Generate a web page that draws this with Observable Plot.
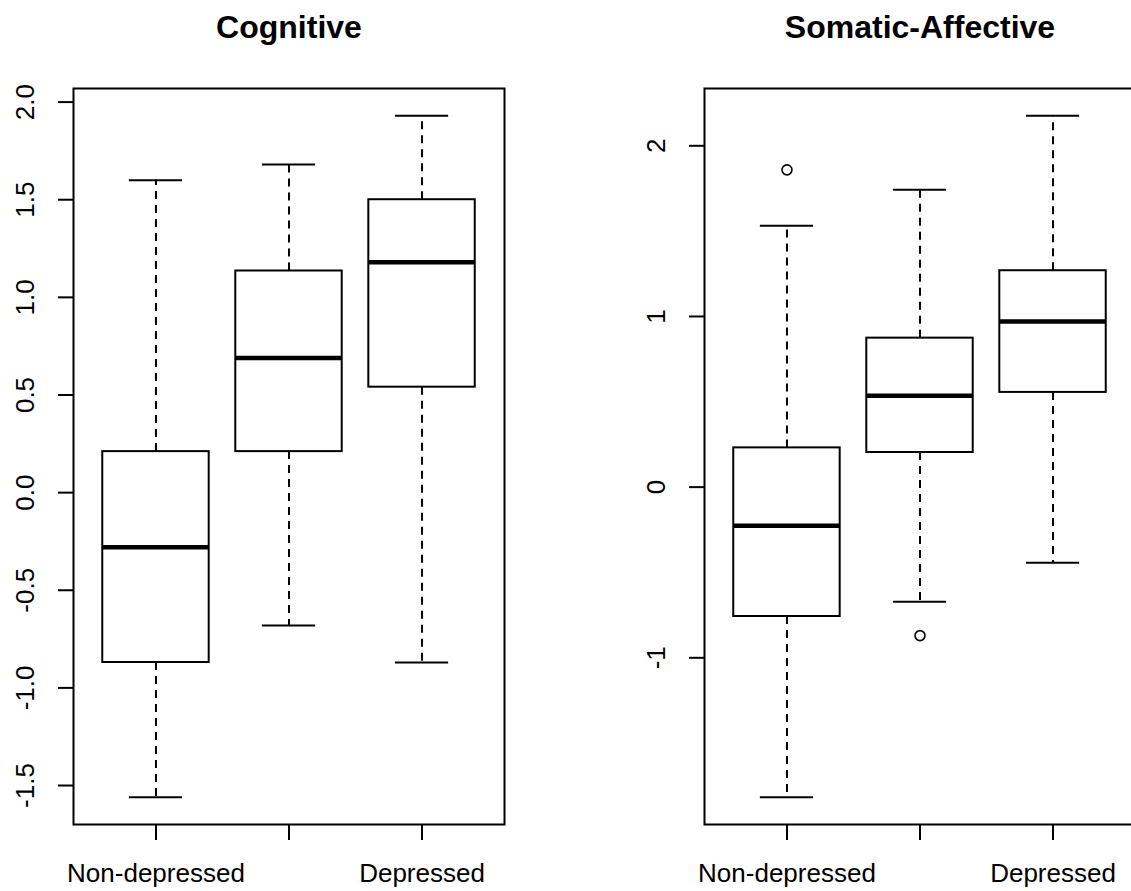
<!DOCTYPE html>
<html>
<head>
<meta charset="utf-8">
<script src="https://cdn.jsdelivr.net/npm/d3@7"></script>
<script src="https://cdn.jsdelivr.net/npm/@observablehq/plot@0.6"></script>
<style>
  html, body { margin: 0; padding: 0; background: #ffffff; overflow: hidden; }
  #wrap { position: relative; width: 1131px; height: 891px; background: #ffffff; overflow: hidden; }
  .panel { position: absolute; top: 0; }
  .panel svg { display: block; overflow: visible; max-width: none !important; height: 891px !important; }
</style>
</head>
<body>
<div id="wrap"></div>
<script>
// ---- data ----
const groupPos = [1, 2, 3];
const xTickLabels = ["Non-depressed", "", "Depressed"];

const cognitiveLow    = [-1.56, -0.68, -0.87];
const cognitiveQ1     = [-0.87,  0.21,  0.54];
const cognitiveMedian = [-0.28,  0.69,  1.18];
const cognitiveQ3     = [ 0.21,  1.135, 1.50];
const cognitiveHigh   = [ 1.60,  1.68,  1.93];
const cognitiveOutlierGroup = [];
const cognitiveOutlierValue = [];
const cognitiveTicks = [-1.5, -1.0, -0.5, 0.0, 0.5, 1.0, 1.5, 2.0];

const somaticLow    = [-1.817, -0.672, -0.443];
const somaticQ1     = [-0.758,  0.203,  0.555];
const somaticMedian = [-0.226,  0.536,  0.970];
const somaticQ3     = [ 0.230,  0.873,  1.268];
const somaticHigh   = [ 1.532,  1.742,  2.176];
const somaticOutlierGroup = [1, 2];
const somaticOutlierValue = [1.859, -0.870];
const somaticTicks = [-1, 0, 1, 2];

const FONT = "'Liberation Sans', Arial, Helvetica, sans-serif";
const BOX_HALF = 0.4;    // half box width (x units)
const CAP_HALF = 0.2;    // half staple width (x units)

function makePanel({title, low, q1, med, q3, high, outGroup, outValue, ticks, tickFmt, left, width, marginLeft, marginRight}) {
  const rows = groupPos.map((p, i) => ({pos: p, lo: low[i], q1: q1[i], med: med[i], q3: q3[i], hi: high[i]}));
  const outliers = outGroup.map((g, i) => ({pos: g, v: outValue[i]}));
  const all = [...low, ...high, ...outValue];
  const lo = d3.min(all), hi = d3.max(all), pad = 0.04 * (hi - lo);
  const xlo = d3.min(groupPos) - 0.5, xhi = d3.max(groupPos) + 0.5, xpad = 0.04 * (xhi - xlo);

  const chart = Plot.plot({
    width, height: 891,
    marginLeft, marginRight, marginTop: 88, marginBottom: 67,
    style: {fontFamily: FONT, fontSize: "26px", color: "#000", background: "transparent", overflow: "visible", maxWidth: "none"},
    x: {type: "linear", domain: [xlo - xpad, xhi + xpad]},
    y: {type: "linear", domain: [lo - pad, hi + pad]},
    marks: [
      // whiskers
      Plot.ruleX(rows, {x: "pos", y1: "q3", y2: "hi", stroke: "#000", strokeWidth: 2, strokeDasharray: "8,6"}),
      Plot.ruleX(rows, {x: "pos", y1: "q1", y2: "lo", stroke: "#000", strokeWidth: 2, strokeDasharray: "8,6"}),
      // staples
      Plot.ruleY(rows, {y: "hi", x1: d => d.pos - CAP_HALF, x2: d => d.pos + CAP_HALF, stroke: "#000", strokeWidth: 2}),
      Plot.ruleY(rows, {y: "lo", x1: d => d.pos - CAP_HALF, x2: d => d.pos + CAP_HALF, stroke: "#000", strokeWidth: 2}),
      // boxes
      Plot.rect(rows, {x1: d => d.pos - BOX_HALF, x2: d => d.pos + BOX_HALF, y1: "q1", y2: "q3", fill: "#fff", stroke: "#000", strokeWidth: 2}),
      // medians
      Plot.ruleY(rows, {y: "med", x1: d => d.pos - BOX_HALF, x2: d => d.pos + BOX_HALF, stroke: "#000", strokeWidth: 4.5}),
      // outliers
      Plot.dot(outliers, {x: "pos", y: "v", r: 5, fill: "none", stroke: "#000", strokeWidth: 1.6}),
      // frame
      Plot.frame({stroke: "#000", strokeWidth: 2}),
      // axes
      Plot.axisY(ticks, {tickSize: 15, tickRotate: -90, tickPadding: 25, tickFormat: tickFmt, fontSize: 26, fill: "#000", stroke: "#000", strokeWidth: 2, label: null}),
      Plot.axisX(groupPos, {tickSize: 16, tickPadding: 23, tickFormat: d => xTickLabels[groupPos.indexOf(d)], fontSize: 26, fill: "#000", stroke: "#000", strokeWidth: 2, label: null}),
      // title
      Plot.text([title], {text: d => d, frameAnchor: "top", dy: -51, lineAnchor: "bottom", fontSize: 32, fontWeight: "bold", fill: "#000"})
    ]
  });
  const div = document.createElement("div");
  div.className = "panel";
  div.style.left = left + "px";
  div.style.width = width + "px";
  div.appendChild(chart);
  document.getElementById("wrap").appendChild(div);
}

makePanel({
  title: "Cognitive",
  low: cognitiveLow, q1: cognitiveQ1, med: cognitiveMedian, q3: cognitiveQ3, high: cognitiveHigh,
  outGroup: cognitiveOutlierGroup, outValue: cognitiveOutlierValue,
  ticks: cognitiveTicks, tickFmt: d => d.toFixed(1),
  left: 0, width: 566, marginLeft: 73, marginRight: 62
});

makePanel({
  title: "Somatic-Affective",
  low: somaticLow, q1: somaticQ1, med: somaticMedian, q3: somaticQ3, high: somaticHigh,
  outGroup: somaticOutlierGroup, outValue: somaticOutlierValue,
  ticks: somaticTicks, tickFmt: d => String(d),
  left: 566, width: 569, marginLeft: 138, marginRight: 0
});
</script>
</body>
</html>
